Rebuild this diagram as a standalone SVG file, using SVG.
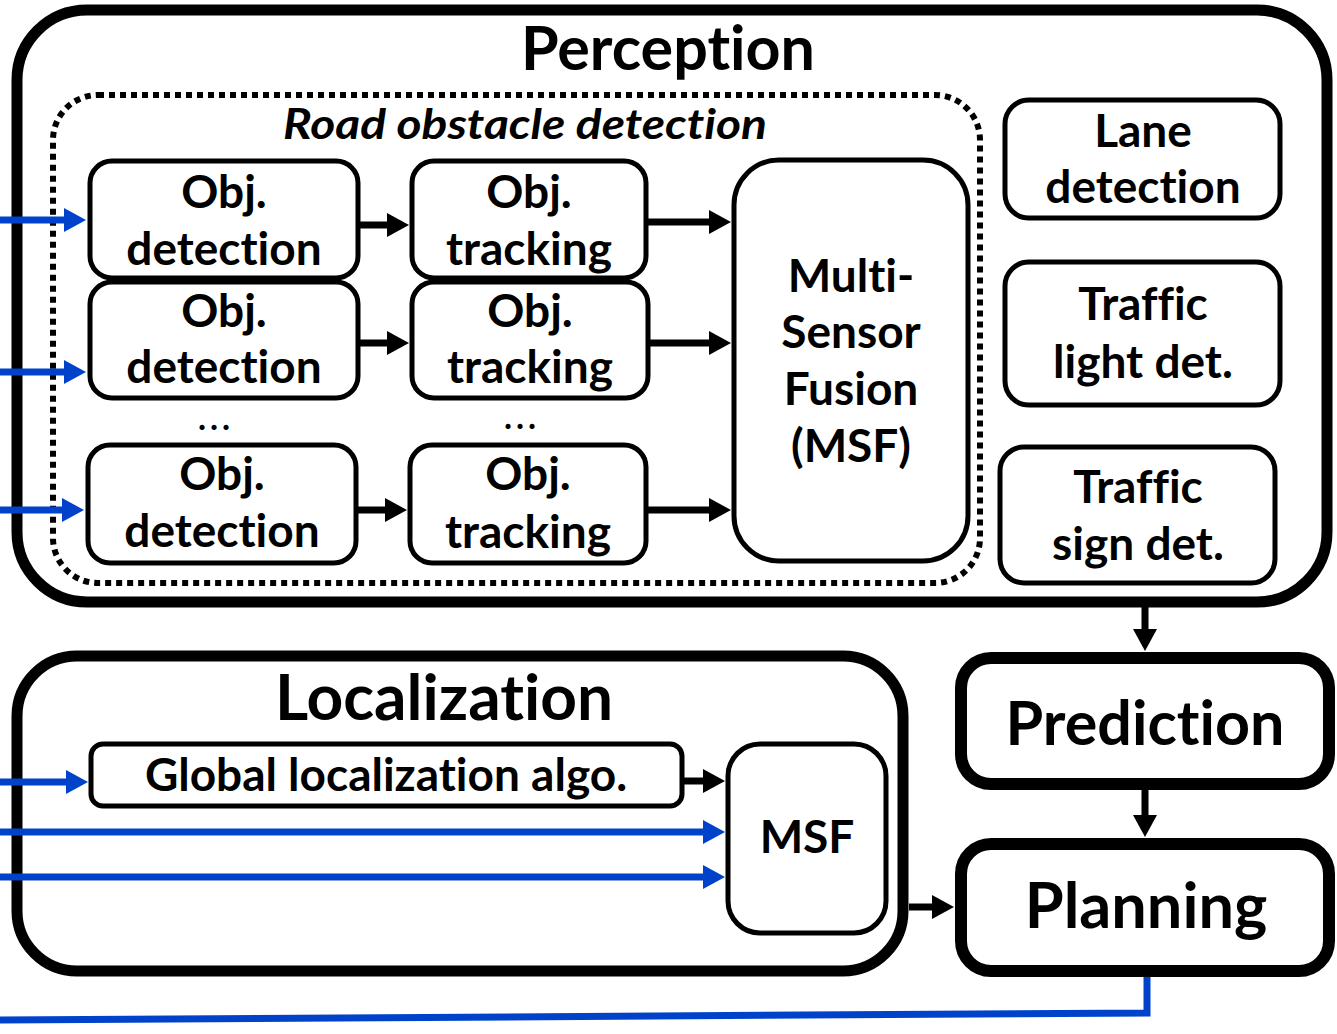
<svg xmlns="http://www.w3.org/2000/svg" width="1337" height="1034" viewBox="0 0 1337 1034">
  <style>
    text { font-family: Lato, "Liberation Sans", sans-serif; font-weight: 700; fill: #000; text-anchor: middle; font-variant-ligatures: none; }
    .lbl { font-size: 46px; }
    .dots { font-size: 34px; letter-spacing: 4px; }
    .big { stroke: #000; stroke-width: 11; fill: none; }
    .box { stroke: #000; stroke-width: 5; fill: #fff; }
    .heavy { stroke: #000; stroke-width: 12; fill: #fff; }
    .dotted { stroke: #000; stroke-width: 6; fill: none; stroke-dasharray: 6 5; }
    .k { stroke: #000; stroke-width: 7; fill: none; marker-end: url(#ah-k); }
    .b { stroke: #0043CA; stroke-width: 7; fill: none; marker-end: url(#ah-b); }
    .bl { stroke: #0043CA; stroke-width: 7; fill: none; }
  </style>
  <defs>
    <marker id="ah-k" markerUnits="userSpaceOnUse" markerWidth="24" markerHeight="26" refX="2" refY="12" orient="auto" viewBox="0 0 24 26">
      <path d="M0,0 L22,12 L0,24 z" fill="#000"/>
    </marker>
    <marker id="ah-b" markerUnits="userSpaceOnUse" markerWidth="24" markerHeight="26" refX="2" refY="12" orient="auto" viewBox="0 0 24 26">
      <path d="M0,0 L22,12 L0,24 z" fill="#0043CA"/>
    </marker>
  </defs>
  <rect width="1337" height="1034" fill="#fff"/>

  <!-- Perception module -->
  <g id="perception">
    <rect class="big" x="17" y="10" width="1310" height="592" rx="70"/>
    <text x="668" y="70" style="font-size:61px">Perception</text>
  </g>

  <!-- Road obstacle detection group -->
  <g id="road-obstacle-detection">
    <rect class="dotted" x="53" y="95" width="927" height="488" rx="45"/>
    <text x="525" y="139" style="font-size:42px;font-style:italic" textLength="484" lengthAdjust="spacingAndGlyphs">Road obstacle detection</text>
  </g>

  <g id="det1">
    <rect class="box" x="90" y="161" width="268" height="117" rx="22"/>
    <text class="lbl" x="224" y="208">Obj.</text>
    <text class="lbl" x="224" y="265">detection</text>
  </g>
  <g id="det2">
    <rect class="box" x="90" y="282" width="268" height="116" rx="22"/>
    <text class="lbl" x="224" y="327">Obj.</text>
    <text class="lbl" x="224" y="383">detection</text>
  </g>
  <g id="det-more">
    <text class="dots" x="216" y="430">...</text>
  </g>
  <g id="det3">
    <rect class="box" x="88" y="445" width="268" height="118" rx="22"/>
    <text class="lbl" x="222" y="490">Obj.</text>
    <text class="lbl" x="222" y="547">detection</text>
  </g>

  <g id="trk1">
    <rect class="box" x="412" y="161" width="234" height="117" rx="22"/>
    <text class="lbl" x="529" y="208">Obj.</text>
    <text class="lbl" x="529" y="265">tracking</text>
  </g>
  <g id="trk2">
    <rect class="box" x="412" y="282" width="236" height="116" rx="22"/>
    <text class="lbl" x="530" y="327">Obj.</text>
    <text class="lbl" x="530" y="383">tracking</text>
  </g>
  <g id="trk-more">
    <text class="dots" x="522" y="429">...</text>
  </g>
  <g id="trk3">
    <rect class="box" x="410" y="445" width="236" height="118" rx="22"/>
    <text class="lbl" x="528" y="490">Obj.</text>
    <text class="lbl" x="528" y="548">tracking</text>
  </g>

  <g id="msf-perception">
    <rect class="box" x="734" y="160" width="234" height="401" rx="45"/>
    <text class="lbl" x="851" y="292">Multi-</text>
    <text class="lbl" x="851" y="348">Sensor</text>
    <text class="lbl" x="851" y="405">Fusion</text>
    <text class="lbl" x="851" y="462">(MSF)</text>
  </g>

  <g id="lane">
    <rect class="box" x="1005" y="100" width="275" height="118" rx="24"/>
    <text class="lbl" x="1143" y="147">Lane</text>
    <text class="lbl" x="1143" y="203">detection</text>
  </g>
  <g id="traffic-light">
    <rect class="box" x="1005" y="262" width="275" height="143" rx="24"/>
    <text class="lbl" x="1143" y="320">Traffic</text>
    <text class="lbl" x="1143" y="378">light det.</text>
  </g>
  <g id="traffic-sign">
    <rect class="box" x="1000" y="447" width="275" height="136" rx="24"/>
    <text class="lbl" x="1138" y="503">Traffic</text>
    <text class="lbl" x="1138" y="560">sign det.</text>
  </g>

  <!-- Localization module -->
  <g id="localization">
    <rect class="big" x="17" y="656" width="886" height="315" rx="60"/>
    <text x="444" y="720" style="font-size:64px">Localization</text>
  </g>
  <g id="global-loc">
    <rect class="box" x="91" y="744" width="591" height="62" rx="12"/>
    <text x="386" y="791" style="font-size:46px">Global localization algo.</text>
  </g>
  <g id="msf-localization">
    <rect class="box" x="728" y="744" width="158" height="189" rx="32"/>
    <text class="lbl" x="807" y="853">MSF</text>
  </g>

  <g id="prediction">
    <rect class="heavy" x="961" y="658" width="368" height="126" rx="30"/>
    <text x="1145" y="745" style="font-size:61px">Prediction</text>
  </g>
  <g id="planning">
    <rect class="heavy" x="961" y="844" width="368" height="127" rx="30"/>
    <text x="1146" y="928" style="font-size:63px">Planning</text>
  </g>

  <!-- Connectors -->
  <g id="connectors">
    <!-- sensor inputs -->
    <line class="b" x1="0" y1="220" x2="66" y2="220"/>
    <line class="b" x1="0" y1="372" x2="66" y2="372"/>
    <line class="b" x1="0" y1="510" x2="64" y2="510"/>
    <line class="b" x1="0" y1="782" x2="68" y2="782"/>
    <line class="b" x1="0" y1="832" x2="705" y2="832"/>
    <line class="b" x1="0" y1="877" x2="705" y2="877"/>
    <!-- detection to tracking -->
    <line class="k" x1="358" y1="225" x2="389" y2="225"/>
    <line class="k" x1="358" y1="343" x2="389" y2="343"/>
    <line class="k" x1="356" y1="510" x2="387" y2="510"/>
    <!-- tracking to fusion -->
    <line class="k" x1="646" y1="222" x2="711" y2="222"/>
    <line class="k" x1="648" y1="343" x2="711" y2="343"/>
    <line class="k" x1="646" y1="510" x2="711" y2="510"/>
    <!-- localization flow -->
    <line class="k" x1="682" y1="781" x2="705" y2="781"/>
    <line class="k" x1="909" y1="907" x2="934" y2="907"/>
    <!-- downstream -->
    <line class="k" x1="1145" y1="607" x2="1145" y2="631"/>
    <line class="k" x1="1145" y1="790" x2="1145" y2="817"/>
    <!-- planning feedback -->
    <polyline class="bl" points="1147,977 1147,1013 0,1020"/>
  </g>
</svg>
